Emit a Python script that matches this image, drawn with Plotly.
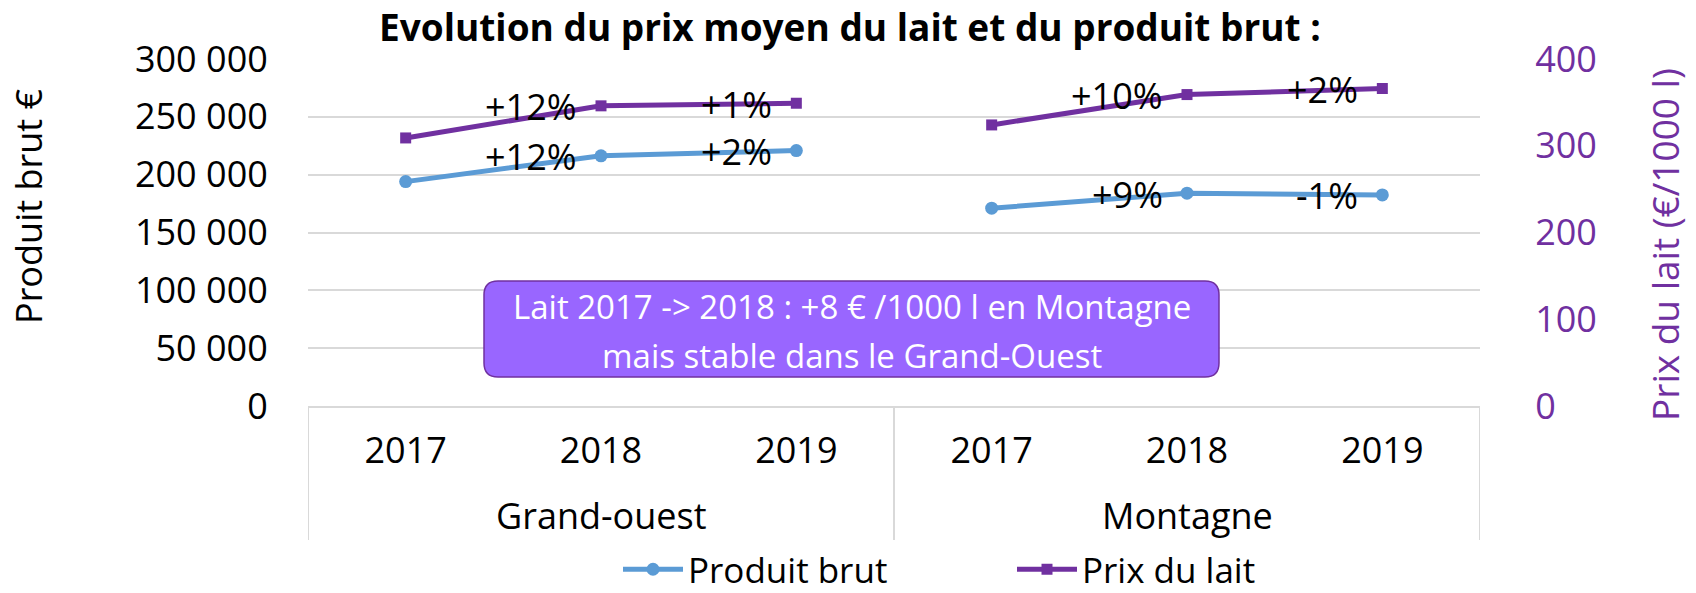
import plotly.graph_objects as go

# ---------------- data ----------------
groups = ["Grand-ouest", "Montagne"]
years = ["2017", "2018", "2019"]
produit_brut = {"Grand-ouest": [194000, 216300, 220800],
                "Montagne": [171000, 184000, 182500]}
prix_lait = {"Grand-ouest": [309, 346, 349],
             "Montagne": [324, 359, 366]}
labels_produit = {"Grand-ouest": ["", "+12%", "+2%"],
                  "Montagne": ["", "+9%", "-1%"]}
labels_lait = {"Grand-ouest": ["", "+12%", "+1%"],
               "Montagne": ["", "+10%", "+2%"]}
y_left_ticks = [0, 50000, 100000, 150000, 200000, 250000, 300000]
y_right_ticks = [0, 100, 200, 300, 400]

BLUE = "#5B9BD5"
PURPLE = "#7030A0"
GRID = "#D9D9D9"
FONT = "Open Sans, Noto Sans, sans-serif"

# build x positions with a gap between the two groups
xs, ys_p, ys_l, ticktext = [], [], [], []
for gi, g in enumerate(groups):
    if gi > 0:
        xs.append(None); ys_p.append(None); ys_l.append(None)
    for yi, yr in enumerate(years):
        xs.append(gi * len(years) + yi)
        ys_p.append(produit_brut[g][yi])
        ys_l.append(prix_lait[g][yi])
        ticktext.append(yr)
tickvals = list(range(len(ticktext)))

fig = go.Figure()
fig.add_trace(go.Scatter(
    x=xs, y=ys_p, name="Produit brut", mode="lines+markers",
    line=dict(color=BLUE, width=5), marker=dict(symbol="circle", size=13, color=BLUE),
    connectgaps=False, yaxis="y", cliponaxis=False))
fig.add_trace(go.Scatter(
    x=xs, y=ys_l, name="Prix du lait", mode="lines+markers",
    line=dict(color=PURPLE, width=5), marker=dict(symbol="square", size=11, color=PURPLE),
    connectgaps=False, yaxis="y2", cliponaxis=False))

# percentage labels, placed left of each point
for gi, g in enumerate(groups):
    for yi in range(len(years)):
        xp = gi * len(years) + yi
        for txt, val, yref in [(labels_produit[g][yi], produit_brut[g][yi], "y"),
                               (labels_lait[g][yi], prix_lait[g][yi], "y2")]:
            if txt:
                fig.add_annotation(text=txt, x=xp, y=val, xref="x", yref=yref,
                                   showarrow=False, xanchor="right", yanchor="middle",
                                   xshift=-22, yshift=-1,
                                   font=dict(family=FONT, size=36, color="black"))

W, H = 1696, 593
L, R, T, B = 308, 216, 59, 187
pw, ph = W - L - R, H - T - B

def px2paper(px, py):
    return (px - L) / pw, (H - B - py) / ph

fig.update_layout(
    width=W, height=H,
    margin=dict(l=L, r=R, t=T, b=B, autoexpand=False),
    plot_bgcolor="white", paper_bgcolor="white",
    font=dict(family=FONT, size=36, color="black"),
    showlegend=True,
    legend=dict(orientation="h", x=px2paper(618, 0)[0], xanchor="left",
                y=px2paper(0, 599)[1], yanchor="bottom",
                font=dict(family=FONT, size=35, color="black"),
                itemwidth=60, entrywidth=319, bgcolor="rgba(0,0,0,0)"),
    xaxis=dict(range=[-0.5, len(ticktext) - 0.5], tickvals=tickvals, ticktext=ticktext,
               showgrid=False, zeroline=False, showline=True, linecolor=GRID, linewidth=2,
               ticks="outside", ticklen=12, tickcolor="rgba(0,0,0,0)",
               tickfont=dict(family=FONT, size=36, color="black")),
    yaxis=dict(range=[0, 300000], tickvals=y_left_ticks,
               ticktext=[f"{v:,}".replace(",", " ") for v in y_left_ticks],
               showgrid=True, gridcolor=GRID, gridwidth=2, zeroline=False, showline=False,
               ticks="outside", ticklen=32, tickcolor="rgba(0,0,0,0)",
               tickfont=dict(family=FONT, size=36, color="black")),
    yaxis2=dict(range=[0, 400], tickvals=y_right_ticks, overlaying="y", side="right",
                showgrid=False, zeroline=False, showline=False,
                ticks="outside", ticklen=47, tickcolor="rgba(0,0,0,0)",
                tickfont=dict(family=FONT, size=36, color=PURPLE)),
)

# title and axis titles
tx, ty = px2paper(850, 26)
fig.add_annotation(text="<b>Evolution du prix moyen du lait et du produit brut :</b>",
                   x=tx, y=ty, xref="paper", yref="paper", showarrow=False,
                   xanchor="center", yanchor="middle",
                   font=dict(family=FONT, size=37, color="black"))
ax_, ay_ = px2paper(28, 207)
fig.add_annotation(text="Produit brut €", x=ax_, y=ay_, xref="paper", yref="paper",
                   showarrow=False, textangle=-90, xanchor="center", yanchor="middle",
                   font=dict(family=FONT, size=36, color="black"))
bx_, by_ = px2paper(1664, 244)
fig.add_annotation(text="Prix du lait (€/1000 l)", x=bx_, y=by_, xref="paper", yref="paper",
                   showarrow=False, textangle=-90, xanchor="center", yanchor="middle",
                   font=dict(family=FONT, size=37, color=PURPLE))

# group labels and dividers
n = len(years)
_, gy = px2paper(0, 515)
_, dy = px2paper(0, 540)
for gi, g in enumerate(groups):
    fig.add_annotation(text=g, x=gi * n + (n - 1) / 2, y=gy, xref="x", yref="paper",
                       showarrow=False, xanchor="center", yanchor="middle",
                       font=dict(family=FONT, size=36, color="black"))
for k in range(len(groups) + 1):
    fig.add_shape(type="line", x0=k * n - 0.5, x1=k * n - 0.5, y0=0, y1=dy,
                  xref="x", yref="paper", line=dict(color=GRID, width=2))

# callout box
x0, y0 = px2paper(484, 281)
x1, y1 = px2paper(1219, 377)
rx, ry = 14 / pw, 14 / ph
path = (f"M {x0+rx},{y0} L {x1-rx},{y0} Q {x1},{y0} {x1},{y0-ry} "
        f"L {x1},{y1+ry} Q {x1},{y1} {x1-rx},{y1} L {x0+rx},{y1} Q {x0},{y1} {x0},{y1+ry} "
        f"L {x0},{y0-ry} Q {x0},{y0} {x0+rx},{y0} Z")
fig.add_shape(type="path", path=path, xref="paper", yref="paper",
              fillcolor="#9966FF", line=dict(color=PURPLE, width=1.5), layer="above")
cx = (x0 + x1) / 2
for line_txt, py in [("Lait 2017 -> 2018 : +8 € /1000 l en Montagne", 306),
                     ("mais stable dans le Grand-Ouest", 355)]:
    fig.add_annotation(text=line_txt, x=cx, y=px2paper(0, py)[1], xref="paper", yref="paper",
                       showarrow=False, xanchor="center", yanchor="middle",
                       font=dict(family=FONT, size=33, color="white"))

fig.write_html("out.html", config={"displayModeBar": False},
               post_script="document.body.style.margin='0';document.body.style.overflow='hidden';")
